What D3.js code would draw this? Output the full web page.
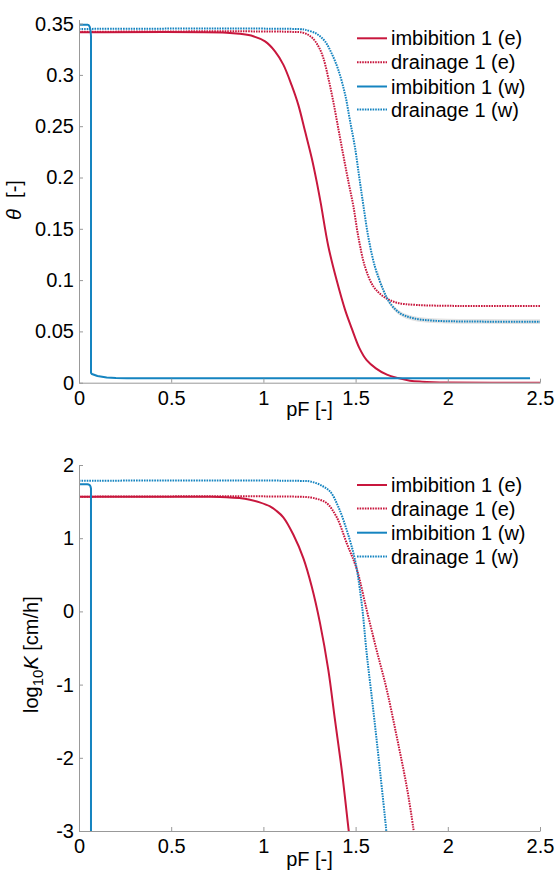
<!DOCTYPE html>
<html><head><meta charset="utf-8">
<script src="https://cdn.jsdelivr.net/npm/d3@7"></script>
<style>
html,body{margin:0;padding:0;background:#fff;}
svg{display:block;font-family:"Liberation Sans",Arial,sans-serif;}
</style></head>
<body>
<svg id="chart" width="556" height="875"></svg>
<script>
// ---------- DATA ----------
const seriesNames = ["imbibition 1 (e)", "drainage 1 (e)", "imbibition 1 (w)", "drainage 1 (w)"];
const xTicks = [0, 0.5, 1, 1.5, 2, 2.5];
const xTickLabels = ["0", "0.5", "1", "1.5", "2", "2.5"];
const thetaTicks = [0, 0.05, 0.1, 0.15, 0.2, 0.25, 0.3, 0.35];
const thetaTickLabels = ["0", "0.05", "0.1", "0.15", "0.2", "0.25", "0.3", "0.35"];
const logKTicks = [-3, -2, -1, 0, 1, 2];
const logKTickLabels = ["-3", "-2", "-1", "0", "1", "2"];

// Top panel: theta vs pF
const thImbE_x = [0, 0.8, 0.873, 0.945, 1.009, 1.063, 1.108, 1.153, 1.189, 1.226, 1.262, 1.289, 1.311, 1.352, 1.397, 1.443, 1.479, 1.52, 1.56, 1.61, 1.67, 1.73, 1.795, 1.86, 1.92, 2.0, 2.5];
const thImbE_y = [0.3415, 0.3412, 0.340, 0.3377, 0.3327, 0.323, 0.310, 0.290, 0.271, 0.245, 0.219, 0.196, 0.175, 0.133, 0.100, 0.071, 0.053, 0.034, 0.022, 0.014, 0.0078, 0.0045, 0.002, 0.001, 0.0005, 0.0002, 0.0];

const thDrE_x = [0, 1.144, 1.217, 1.262, 1.298, 1.325, 1.352, 1.379, 1.406, 1.433, 1.461, 1.488, 1.515, 1.551, 1.596, 1.651, 1.723, 1.831, 2.066, 2.5];
const thDrE_y = [0.342, 0.342, 0.341, 0.3366, 0.328, 0.3165, 0.297, 0.274, 0.248, 0.222, 0.196, 0.172, 0.142, 0.113, 0.094, 0.084, 0.078, 0.0758, 0.0748, 0.0748];

const thImbW_x = [0, 0.045, 0.053, 0.058, 0.062, 0.065, 0.065, 0.07, 0.1, 0.15, 0.2, 0.26, 0.5, 1.0, 2.446];
const thImbW_y = [0.349, 0.349, 0.3485, 0.347, 0.344, 0.338, 0.0095, 0.0085, 0.0065, 0.005, 0.0045, 0.0043, 0.0043, 0.0043, 0.0043];

const thDrW_x = [0, 1.2, 1.226, 1.289, 1.334, 1.37, 1.406, 1.443, 1.47, 1.497, 1.52, 1.542, 1.569, 1.605, 1.651, 1.687, 1.741, 1.813, 1.921, 2.066, 2.5];
const thDrW_y = [0.3448, 0.3446, 0.344, 0.340, 0.3327, 0.321, 0.305, 0.281, 0.255, 0.229, 0.200, 0.173, 0.142, 0.113, 0.090, 0.0775, 0.0677, 0.0628, 0.0605, 0.0597, 0.0595];

// uncertainty band around drainage 1 (w)
const bandW_x = [1.62, 1.651, 1.687, 1.741, 1.813, 1.921, 2.066, 2.5];
const bandW_lo = [0.104, 0.0875, 0.0753, 0.0655, 0.0605, 0.0582, 0.0574, 0.0572];
const bandW_hi = [0.110, 0.0925, 0.0797, 0.0699, 0.0651, 0.0628, 0.0620, 0.0618];

// Bottom panel: log10 K vs pF
const kImbE_x = [0, 0.7, 0.8, 0.87, 0.927, 0.98, 1.036, 1.07, 1.108, 1.162, 1.217, 1.262, 1.307, 1.352, 1.388, 1.425, 1.461, 1.47];
const kImbE_y = [1.567, 1.566, 1.561, 1.548, 1.525, 1.49, 1.435, 1.375, 1.285, 1.05, 0.725, 0.34, -0.16, -0.80, -1.48, -2.17, -2.96, -3.15];

const kDrE_x = [0, 1.2, 1.26, 1.30, 1.343, 1.397, 1.452, 1.506, 1.56, 1.614, 1.669, 1.723, 1.777, 1.813, 1.82];
const kDrE_y = [1.567, 1.566, 1.555, 1.53, 1.48, 1.29, 0.93, 0.58, 0.02, -0.53, -1.07, -1.71, -2.39, -2.96, -3.1];

const kImbW_x = [0, 0.045, 0.053, 0.058, 0.062, 0.065, 0.065];
const kImbW_y = [1.736, 1.736, 1.733, 1.725, 1.71, 1.68, -3.1];

const kDrW_x = [0, 1.2, 1.253, 1.307, 1.361, 1.406, 1.452, 1.497, 1.533, 1.56, 1.596, 1.632, 1.665, 1.67];
const kDrW_y = [1.785, 1.783, 1.775, 1.73, 1.64, 1.43, 1.11, 0.70, 0.11, -0.57, -1.35, -2.17, -2.96, -3.1];

// ---------- STYLE ----------
const RED = "#c8173d", BLUE = "#1584c0";
const AXIS = "#999999";
const FONT = 20;
const DOT = "1.6,1";

const svg = d3.select("#chart");
const zip = (xs, ys) => xs.map((x, i) => [x, ys[i]]);

function panel(cfg) {
  const x = d3.scaleLinear().domain([0, 2.5]).range([79, 540]);
  const y = d3.scaleLinear().domain(cfg.yDomain).range(cfg.yRange);
  const g = svg.append("g");
  const clipId = cfg.id + "clip";
  svg.append("defs").append("clipPath").attr("id", clipId)
    .append("rect").attr("x", 79).attr("y", cfg.yRange[1] - 2)
    .attr("width", 470).attr("height", cfg.yRange[0] - cfg.yRange[1] + 2);

  const plot = g.append("g").attr("clip-path", `url(#${clipId})`);

  if (cfg.band) {
    const area = d3.area().x(d => x(d[0])).y0(d => y(d[1])).y1(d => y(d[2]))
      .curve(d3.curveMonotoneX);
    plot.append("path")
      .datum(cfg.band.x.map((v, i) => [v, cfg.band.lo[i], cfg.band.hi[i]]))
      .attr("d", area).attr("fill", "#e4e4e4").attr("stroke", "none");
  }

  cfg.series.forEach(s => {
    const line = d3.line().x(d => x(d[0])).y(d => y(d[1]))
      .curve(s.linear ? d3.curveLinear : d3.curveCatmullRom.alpha(0.5));
    plot.append("path").datum(zip(s.x, s.y))
      .attr("d", line).attr("fill", "none")
      .attr("stroke", s.color).attr("stroke-width", 2)
      .attr("stroke-linejoin", "round")
      .attr("stroke-dasharray", s.dotted ? DOT : null);
  });

  // axes
  const xAxis = d3.axisBottom(x).tickValues(xTicks)
    .tickFormat((d, i) => xTickLabels[i]).tickSizeInner(-4).tickSizeOuter(0).tickPadding(8);
  const yAxis = d3.axisLeft(y).tickValues(cfg.yTicks)
    .tickFormat((d, i) => cfg.yTickLabels[i]).tickSizeInner(-4).tickSizeOuter(0).tickPadding(5);
  const gx = g.append("g").attr("transform", `translate(0,${cfg.yRange[0]})`).call(xAxis);
  const gy = g.append("g").attr("transform", `translate(79,0)`).call(yAxis);
  [gx, gy].forEach(a => {
    a.selectAll("path,line").attr("stroke", AXIS);
    a.selectAll("text").attr("fill", "#000").style("font-size", FONT + "px")
      .style("font-family", '"Liberation Sans",Arial,sans-serif');
  });

  // x label
  g.append("text").attr("x", 309.5).attr("y", cfg.xLabelY).attr("text-anchor", "middle")
    .style("font-size", FONT + "px").text("pF [-]");

  // legend
  cfg.series.forEach((s, i) => {
    const ly = cfg.legendY[i];
    g.append("line").attr("x1", 357).attr("x2", 387).attr("y1", ly).attr("y2", ly)
      .attr("stroke", s.color).attr("stroke-width", 2)
      .attr("stroke-dasharray", s.dotted ? DOT : null);
    g.append("text").attr("x", 391).attr("y", ly + 7)
      .style("font-size", FONT + "px").text(seriesNames[i]);
  });
  return g;
}

panel({
  id: "thetaPanel", yDomain: [0, 0.354], yRange: [382.7, 19.5],
  yTicks: thetaTicks, yTickLabels: thetaTickLabels, xLabelY: 416,
  legendY: [38.3, 62.3, 86.5, 109.5],
  band: { x: bandW_x, lo: bandW_lo, hi: bandW_hi },
  series: [
    { x: thImbE_x, y: thImbE_y, color: RED },
    { x: thDrE_x, y: thDrE_y, color: RED, dotted: true },
    { x: thImbW_x, y: thImbW_y, color: BLUE, linear: true },
    { x: thDrW_x, y: thDrW_y, color: BLUE, dotted: true }
  ]
});

panel({
  id: "kPanel", yDomain: [-3, 2], yRange: [831, 465],
  yTicks: logKTicks, yTickLabels: logKTickLabels, xLabelY: 866,
  legendY: [485, 508.5, 532.7, 556.5],
  series: [
    { x: kImbE_x, y: kImbE_y, color: RED },
    { x: kDrE_x, y: kDrE_y, color: RED, dotted: true },
    { x: kImbW_x, y: kImbW_y, color: BLUE, linear: true },
    { x: kDrW_x, y: kDrW_y, color: BLUE, dotted: true }
  ]
});

// y labels
const t1 = svg.append("text").attr("transform", "translate(21,200) rotate(-90)")
  .attr("text-anchor", "middle").style("font-size", FONT + "px");
t1.append("tspan").style("font-style", "italic").text("θ");
t1.append("tspan").text("\u00a0\u00a0[-]");

const t2 = svg.append("text").attr("transform", "translate(38,713) rotate(-90)")
  .attr("text-anchor", "start").style("font-size", FONT + "px");
t2.append("tspan").text("log");
t2.append("tspan").attr("dy", 5).style("font-size", "15px").text("10");
t2.append("tspan").attr("dy", -5).style("font-style", "italic").text("K");
t2.append("tspan").text(" [cm/h]");
</script>
</body></html>
